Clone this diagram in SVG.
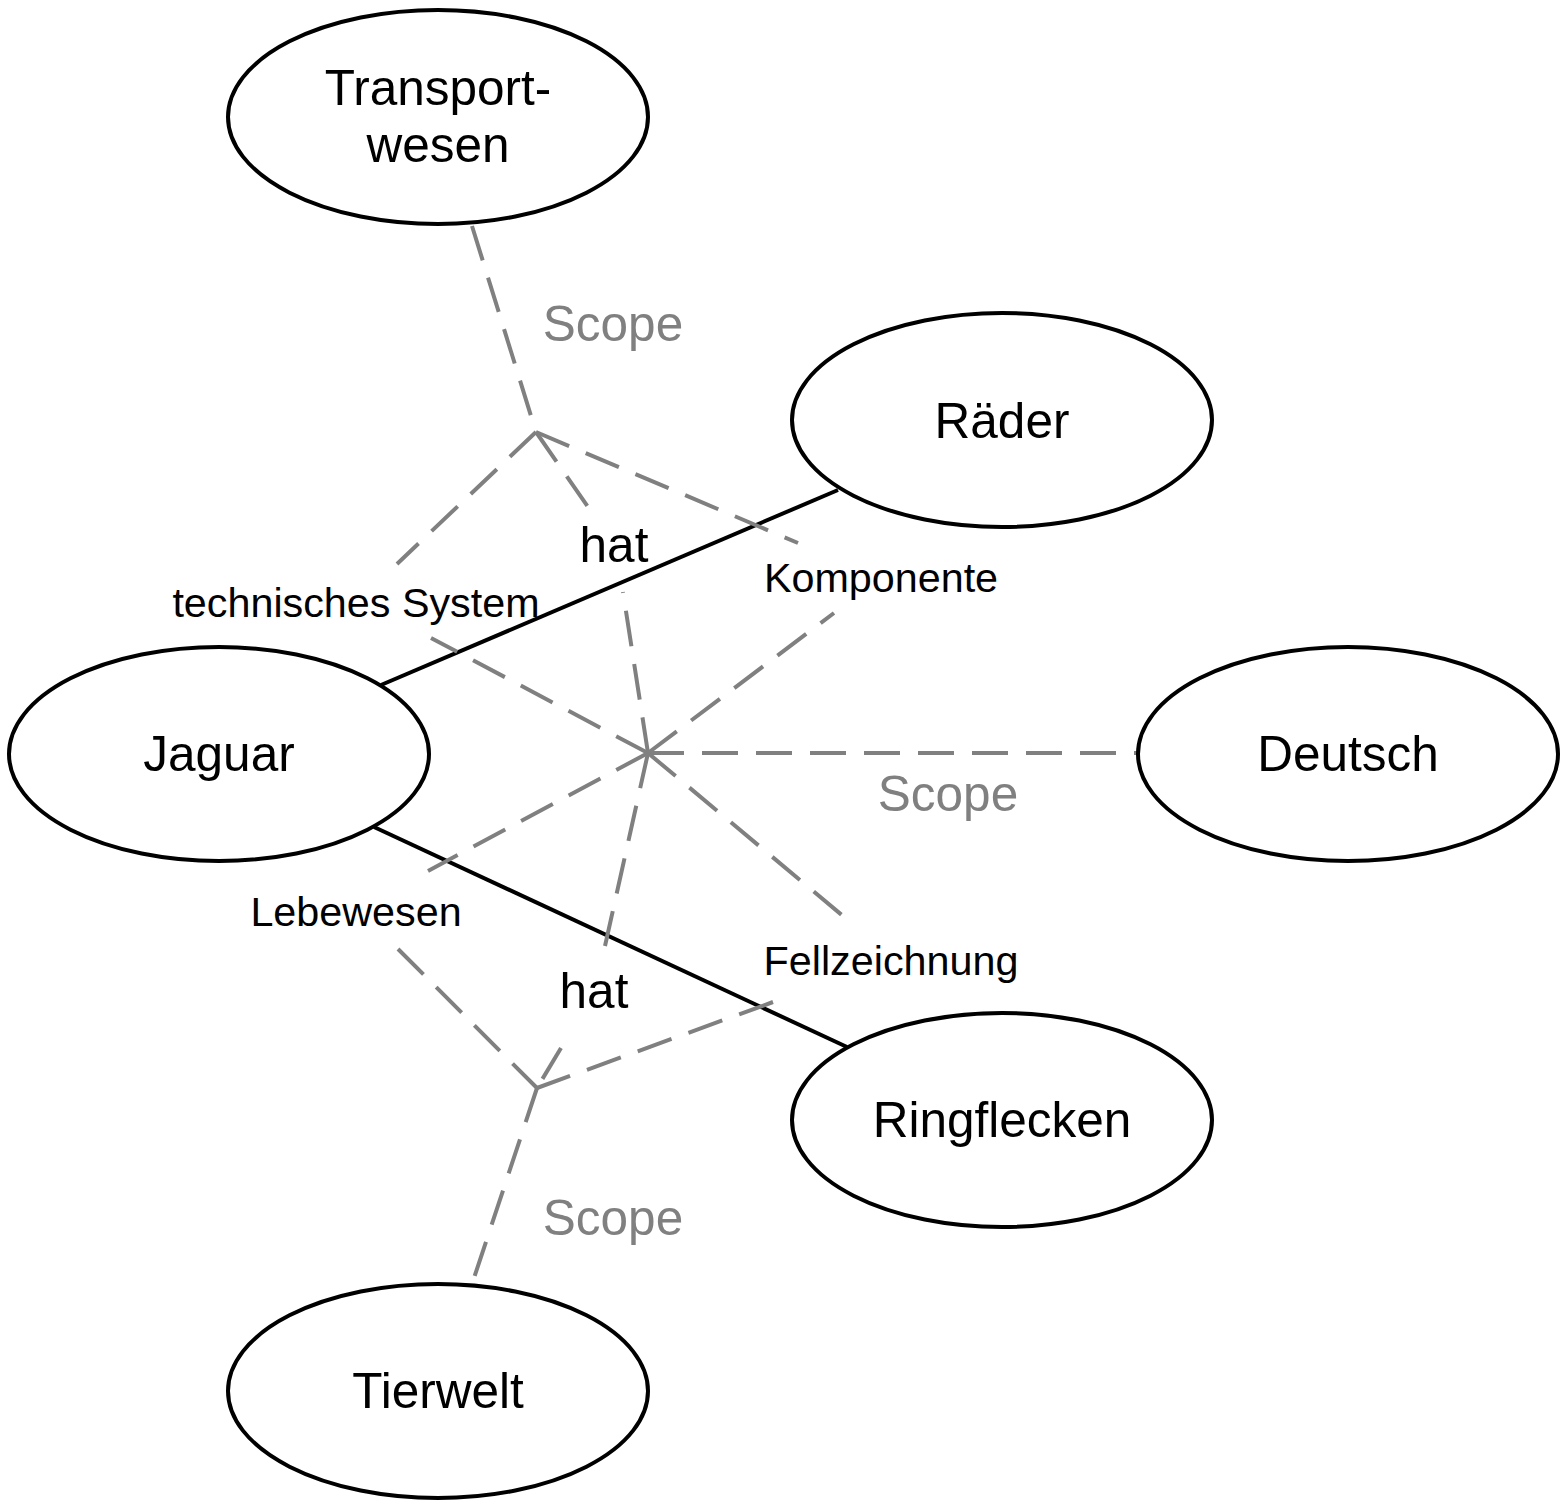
<svg xmlns="http://www.w3.org/2000/svg" width="1566" height="1508" viewBox="0 0 1566 1508">
<style>
.node{fill:#fff;stroke:#000;stroke-width:4}
.solid{stroke:#000;stroke-width:4;fill:none}
.dash{stroke:#808080;stroke-width:4;fill:none;stroke-dasharray:36 18}
text{font-family:"Liberation Sans",Arial,Helvetica,sans-serif;text-anchor:middle}
.big{font-size:49.5px;fill:#000}
.small{font-size:41.3px;fill:#000}
.scope{font-size:49.5px;fill:#808080}
</style>
<rect width="1566" height="1508" fill="#fff"/>
<g id="connectors">
<line class="solid" x1="381" y1="685" x2="838" y2="490"/>
<line class="solid" x1="374" y1="827" x2="847" y2="1047"/>
<line class="dash" x1="472" y1="226" x2="536" y2="432"/>
<line class="dash" x1="536" y1="432" x2="397" y2="564"/>
<line class="dash" x1="536" y1="432" x2="588" y2="507"/>
<line class="dash" x1="536" y1="432" x2="798" y2="543"/>
<line class="dash" x1="648" y1="753" x2="431" y2="638"/>
<line class="dash" x1="648" y1="753" x2="623" y2="592"/>
<line class="dash" x1="648" y1="753" x2="834" y2="613"/>
<line class="dash" x1="648" y1="753" x2="1138" y2="753"/>
<line class="dash" x1="648" y1="753" x2="843" y2="916"/>
<line class="dash" x1="648" y1="753" x2="605" y2="946"/>
<line class="dash" x1="648" y1="753" x2="428" y2="871"/>
<line class="dash" x1="398" y1="949" x2="537" y2="1088"/>
<line class="dash" x1="561" y1="1048" x2="537" y2="1088"/>
<line class="dash" x1="773" y1="1002" x2="537" y2="1088"/>
<line class="dash" x1="537" y1="1088" x2="472" y2="1284"/>
</g>
<g id="transportwesen"><ellipse class="node" cx="438" cy="117" rx="210" ry="107"/><text class="big" x="438" y="105">Transport-</text><text class="big" x="438" y="162">wesen</text></g>
<g id="raeder"><ellipse class="node" cx="1002" cy="420" rx="210" ry="107"/><text class="big" x="1002" y="438">Räder</text></g>
<g id="jaguar"><ellipse class="node" cx="219" cy="754" rx="210" ry="107"/><text class="big" x="219" y="771">Jaguar</text></g>
<g id="deutsch"><ellipse class="node" cx="1348" cy="754" rx="210" ry="107"/><text class="big" x="1348" y="771">Deutsch</text></g>
<g id="ringflecken"><ellipse class="node" cx="1002" cy="1120" rx="210" ry="107"/><text class="big" x="1002" y="1137">Ringflecken</text></g>
<g id="tierwelt"><ellipse class="node" cx="438" cy="1391" rx="210" ry="107"/><text class="big" x="438" y="1408">Tierwelt</text></g>
<g id="labels">
<text class="scope" x="613" y="341">Scope</text>
<text class="big" x="614" y="562">hat</text>
<text class="small" x="881" y="592">Komponente</text>
<text class="small" x="356" y="617">technisches System</text>
<text class="scope" x="948" y="811">Scope</text>
<text class="small" x="356" y="926">Lebewesen</text>
<text class="small" x="891" y="975">Fellzeichnung</text>
<text class="big" x="594" y="1008">hat</text>
<text class="scope" x="613" y="1235">Scope</text>
</g>
</svg>
